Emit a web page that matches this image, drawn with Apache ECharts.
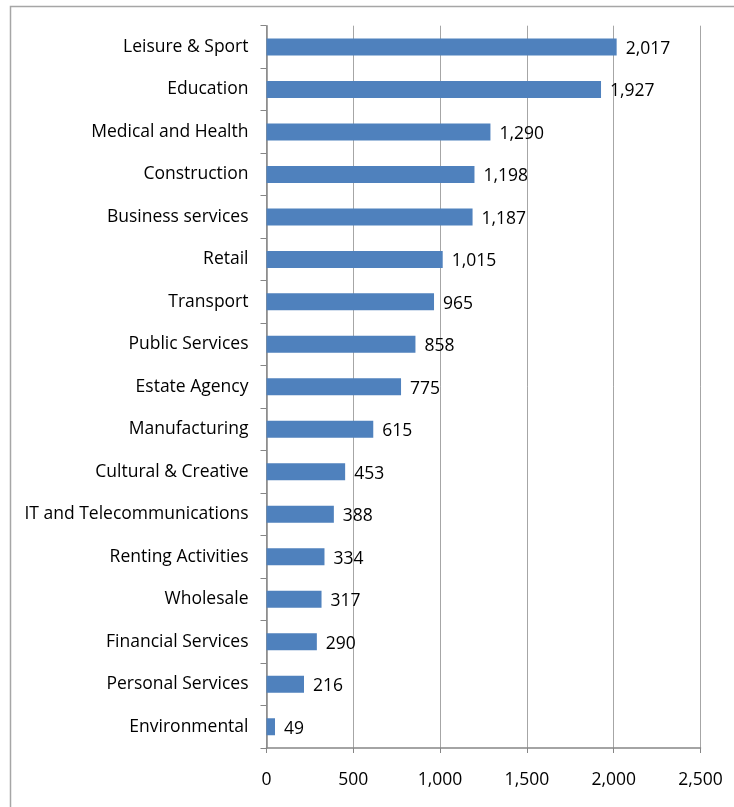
<!DOCTYPE html>
<html>
<head>
<meta charset="utf-8">
<title>Businesses by sector</title>
<script src="https://cdn.jsdelivr.net/npm/echarts@6/dist/echarts.min.js"></script>
<style>
  html, body { margin: 0; padding: 0; background: #fff; }
  #chart { width: 734px; height: 807px; }
</style>
</head>
<body>
<div id="chart"></div>
<script>
// Sectors, listed top to bottom
const sectors = [
  'Leisure & Sport', 'Education', 'Medical and Health', 'Construction',
  'Business services', 'Retail', 'Transport', 'Public Services',
  'Estate Agency', 'Manufacturing', 'Cultural & Creative',
  'IT and Telecommunications', 'Renting Activities', 'Wholesale',
  'Financial Services', 'Personal Services', 'Environmental'
];
// Count per sector
const counts = [2017, 1927, 1290, 1198, 1187, 1015, 965, 858, 775, 615, 453, 388, 334, 317, 290, 216, 49];
// Value axis ticks
const axisTicks = [0, 500, 1000, 1500, 2000, 2500];

const fmt = v => v.toLocaleString('en-US');
const fontFamily = '"Open Sans", "Noto Sans", sans-serif';
const fontSize = 17.5;

const chart = echarts.init(document.getElementById('chart'), null, { renderer: 'canvas' });
chart.setOption({
  animation: false,
  backgroundColor: '#ffffff',
  graphic: [{
    type: 'rect',
    left: 8, top: 4,
    shape: { width: 760, height: 840 },
    style: { fill: 'none', stroke: '#a6a6a6', lineWidth: 1.5 },
    silent: true
  }],
  grid: { left: 266.5, right: 33.5, top: 25.7, bottom: 59, containLabel: false },
  xAxis: {
    type: 'value',
    min: axisTicks[0],
    max: axisTicks[axisTicks.length - 1],
    interval: axisTicks[1] - axisTicks[0],
    axisLine: { show: true, lineStyle: { color: '#868686', width: 1.5 } },
    axisTick: { show: true, length: 5, lineStyle: { color: '#868686' } },
    splitLine: { show: true, lineStyle: { color: '#a6a6a6', width: 1 } },
    axisLabel: {
      margin: 23, color: '#000', fontSize, fontFamily,
      formatter: fmt
    }
  },
  yAxis: {
    type: 'category',
    data: sectors,
    inverse: true,
    axisLine: { show: true, lineStyle: { color: '#868686', width: 1.5 } },
    axisTick: { show: true, length: 6, inside: false, lineStyle: { color: '#868686' } },
    axisLabel: { margin: 18, color: '#000', fontSize, fontFamily },
    splitLine: { show: false }
  },
  series: [{
    type: 'bar',
    data: counts,
    barWidth: 17,
    itemStyle: { color: '#4f81bd' },
    label: {
      show: true,
      position: 'right',
      distance: 9,
      offset: [0, 2],
      color: '#000',
      fontSize,
      fontFamily,
      formatter: p => fmt(p.value)
    }
  }]
});
</script>
</body>
</html>
